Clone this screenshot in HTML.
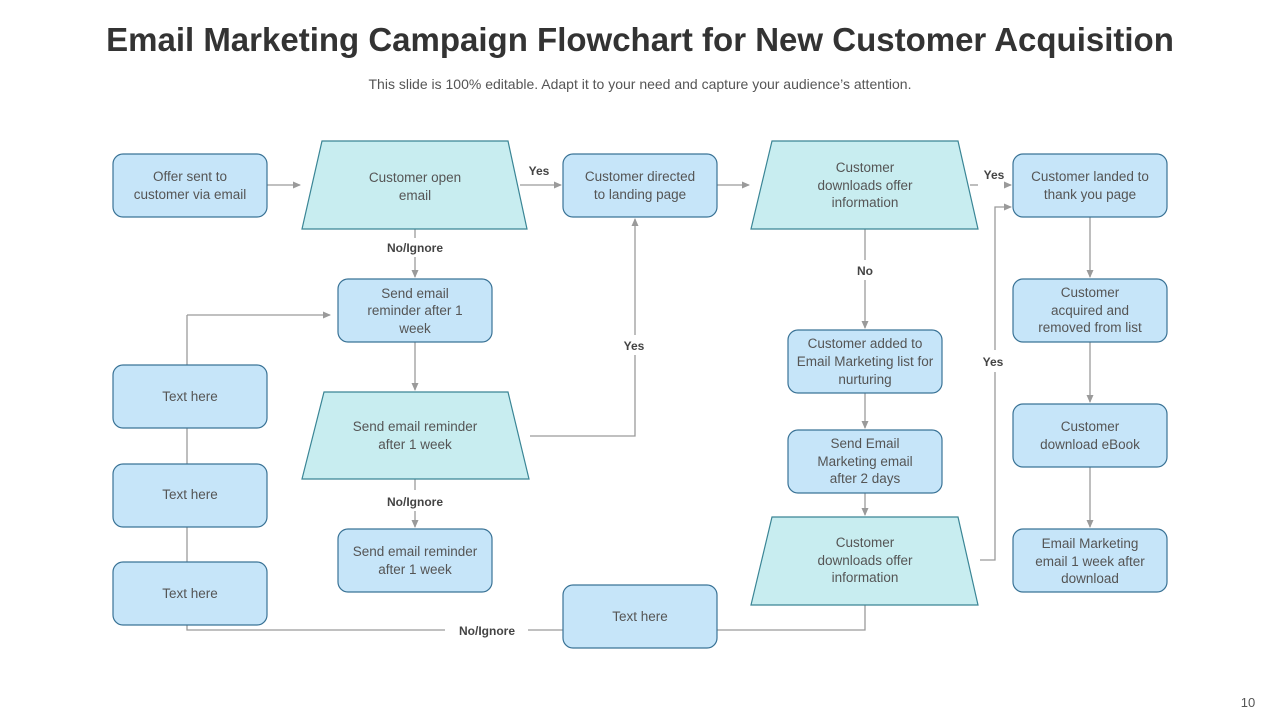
<!DOCTYPE html>
<html><head><meta charset="utf-8"><style>
html,body{margin:0;padding:0;background:#fff;}
svg{display:block;font-family:"Liberation Sans",Arial,sans-serif;}
</style></head><body>
<svg width="1280" height="720" viewBox="0 0 1280 720" xmlns="http://www.w3.org/2000/svg">
<defs>
<marker id="a" markerWidth="8" markerHeight="8" refX="7" refY="4" orient="auto" markerUnits="userSpaceOnUse">
<path d="M0,0.5 L8,4 L0,7.5 z" fill="#9a9a9a"/></marker>
</defs>
<text x="640" y="51" text-anchor="middle" font-size="33" font-weight="bold" fill="#333">Email Marketing Campaign Flowchart for New Customer Acquisition</text>
<text x="640" y="89" text-anchor="middle" font-size="14" fill="#555">This slide is 100% editable. Adapt it to your need and capture your audience’s attention.</text>
<text x="1248" y="707" text-anchor="middle" font-size="13" fill="#555">10</text>

<g stroke="#9a9a9a" stroke-width="1.3" fill="none">
<line x1="267" y1="185" x2="300" y2="185" marker-end="url(#a)"/>
<line x1="520" y1="185" x2="561" y2="185" marker-end="url(#a)"/>
<line x1="415" y1="229" x2="415" y2="238"/>
<line x1="415" y1="257" x2="415" y2="277" marker-end="url(#a)"/>
<line x1="717" y1="185" x2="749" y2="185" marker-end="url(#a)"/>
<line x1="970" y1="185" x2="978" y2="185"/>
<line x1="1006" y1="185" x2="1011" y2="185" marker-end="url(#a)"/>
<line x1="865" y1="229" x2="865" y2="260"/>
<line x1="865" y1="280" x2="865" y2="328" marker-end="url(#a)"/>
<line x1="415" y1="342" x2="415" y2="390" marker-end="url(#a)"/>
<polyline points="530,436 635,436 635,355"/>
<line x1="635" y1="335" x2="635" y2="219" marker-end="url(#a)"/>
<line x1="415" y1="479" x2="415" y2="490"/>
<line x1="415" y1="511" x2="415" y2="527" marker-end="url(#a)"/>
<line x1="187" y1="365" x2="187" y2="315"/>
<line x1="187" y1="315" x2="330" y2="315" marker-end="url(#a)"/>
<line x1="187" y1="428" x2="187" y2="464"/>
<line x1="187" y1="527" x2="187" y2="562"/>
<polyline points="187,625 187,630 445,630"/>
<line x1="528" y1="630" x2="563" y2="630"/>
<polyline points="717,630 865,630 865,605"/>
<line x1="865" y1="393" x2="865" y2="428" marker-end="url(#a)"/>
<line x1="865" y1="493" x2="865" y2="515" marker-end="url(#a)"/>
<polyline points="980,560 995,560 995,372"/>
<polyline points="995,350 995,207 1011,207" marker-end="url(#a)"/>
<line x1="1090" y1="217" x2="1090" y2="277" marker-end="url(#a)"/>
<line x1="1090" y1="342" x2="1090" y2="402" marker-end="url(#a)"/>
<line x1="1090" y1="467" x2="1090" y2="527" marker-end="url(#a)"/>
</g>

<g font-size="12" font-weight="bold" fill="#444" text-anchor="middle">
<text x="539" y="175">Yes</text>
<text x="415" y="252">No/Ignore</text>
<text x="994" y="179">Yes</text>
<text x="865" y="275">No</text>
<text x="634" y="350">Yes</text>
<text x="415" y="506">No/Ignore</text>
<text x="993" y="366">Yes</text>
<text x="487" y="635">No/Ignore</text>
</g>

<g fill="#c6e5f9" stroke="#3a7396" stroke-width="1.2">
<rect x="113" y="154" width="154" height="63" rx="10"/>
<rect x="563" y="154" width="154" height="63" rx="10"/>
<rect x="1013" y="154" width="154" height="63" rx="10"/>
<rect x="338" y="279" width="154" height="63" rx="10"/>
<rect x="338" y="529" width="154" height="63" rx="10"/>
<rect x="113" y="365" width="154" height="63" rx="10"/>
<rect x="113" y="464" width="154" height="63" rx="10"/>
<rect x="113" y="562" width="154" height="63" rx="10"/>
<rect x="563" y="585" width="154" height="63" rx="10"/>
<rect x="788" y="330" width="154" height="63" rx="10"/>
<rect x="788" y="430" width="154" height="63" rx="10"/>
<rect x="1013" y="279" width="154" height="63" rx="10"/>
<rect x="1013" y="404" width="154" height="63" rx="10"/>
<rect x="1013" y="529" width="154" height="63" rx="10"/>
</g>
<g fill="#c8edf0" stroke="#3a8595" stroke-width="1.2">
<polygon points="322,141 508,141 527,229 302,229"/>
<polygon points="772,141 958,141 978,229 751,229"/>
<polygon points="324,392 508,392 529,479 302,479"/>
<polygon points="772,517 958,517 978,605 751,605"/>
</g>

<g font-size="13.5" fill="#555" text-anchor="middle">
<text x="190" y="181">Offer sent to</text><text x="190" y="199">customer via email</text>
<text x="415" y="182">Customer open</text><text x="415" y="200">email</text>
<text x="640" y="181">Customer directed</text><text x="640" y="199">to landing page</text>
<text x="865" y="172">Customer</text><text x="865" y="190">downloads offer</text><text x="865" y="207">information</text>
<text x="1090" y="181">Customer landed to</text><text x="1090" y="199">thank you page</text>
<text x="415" y="298">Send email</text><text x="415" y="315">reminder after 1</text><text x="415" y="333">week</text>
<text x="415" y="431">Send email reminder</text><text x="415" y="449">after 1 week</text>
<text x="415" y="556">Send email reminder</text><text x="415" y="574">after 1 week</text>
<text x="190" y="401">Text here</text>
<text x="190" y="499">Text here</text>
<text x="190" y="598">Text here</text>
<text x="640" y="621">Text here</text>
<text x="865" y="348">Customer added to</text><text x="865" y="366">Email Marketing  list for</text><text x="865" y="384">nurturing</text>
<text x="865" y="448">Send Email</text><text x="865" y="466">Marketing email</text><text x="865" y="483">after 2 days</text>
<text x="865" y="547">Customer</text><text x="865" y="565">downloads offer</text><text x="865" y="582">information</text>
<text x="1090" y="297">Customer</text><text x="1090" y="315">acquired and</text><text x="1090" y="332">removed from list</text>
<text x="1090" y="431">Customer</text><text x="1090" y="449">download eBook</text>
<text x="1090" y="548">Email Marketing</text><text x="1090" y="566">email 1 week after</text><text x="1090" y="583">download</text>
</g>
</svg>
</body></html>
